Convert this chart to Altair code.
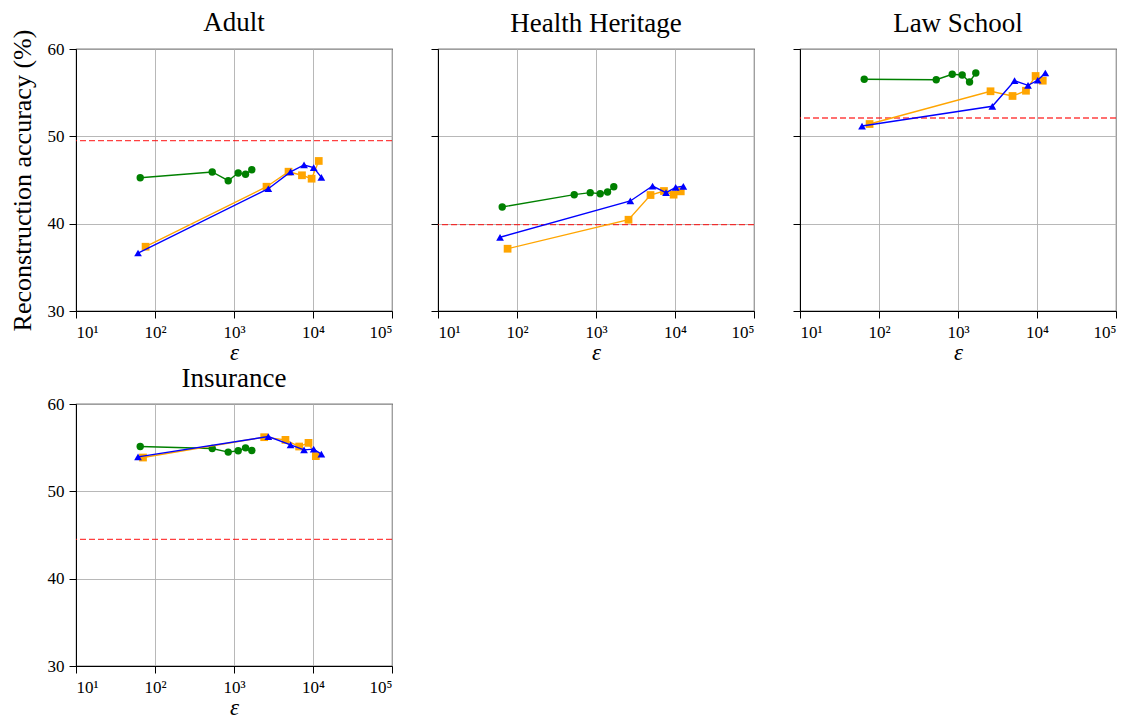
import altair as alt
import pandas as pd

# ---- data ----
DATASETS = ["Adult", "Health Heritage", "Law School", "Insurance"]
EPS_GREEN = [65, 530, 845, 1130, 1400, 1680]
EPS_BLUE = [61, 2720, 5200, 7700, 10200, 12750]
EPS_ORANGE = [76, 2580, 4900, 7250, 9600, 11830]
EPS_ORANGE_INS = [70.5, 2410, 4480, 6680, 8770, 10860]

ADULT_GREEN = [45.26, 45.92, 44.92, 45.80, 45.65, 46.18]
ADULT_BLUE = [36.64, 44.00, 45.92, 46.72, 46.41, 45.30]
ADULT_ORANGE = [37.36, 44.23, 45.95, 45.54, 45.15, 47.18]
ADULT_BASE = 49.5

HH_GREEN = [41.91, 43.32, 43.55, 43.43, 43.63, 44.23]
HH_BLUE = [38.44, 42.60, 44.31, 43.55, 44.16, 44.28]
HH_ORANGE = [37.13, 40.45, 43.28, 43.74, 43.32, 43.70]
HH_BASE = 39.9

LS_GREEN = [56.53, 56.48, 57.10, 57.02, 56.22, 57.25]
LS_BLUE = [51.18, 53.44, 56.37, 55.84, 56.42, 57.25]
LS_ORANGE = [51.41, 55.16, 54.62, 55.22, 56.91, 56.37]
LS_BASE = 52.1

INS_GREEN = [55.13, 54.90, 54.49, 54.64, 54.98, 54.67]
INS_BLUE = [53.95, 56.27, 55.32, 54.75, 54.83, 54.26]
INS_ORANGE = [53.87, 56.20, 55.89, 55.13, 55.55, 54.03]
INS_BASE = 44.5

X_TICKS = [10, 100, 1000, 10000, 100000]
Y_TICKS = [30, 40, 50, 60]

FONT = "Liberation Serif"
W, H = 316, 262


def series_df(eps, acc):
    return pd.DataFrame({"eps": eps, "acc": acc, "idx": list(range(len(eps)))})


def panel(name, green, blue, orange, eps_orange, base, ylabels, ytitle, toff):
    xenc = alt.X(
        "eps:Q",
        scale=alt.Scale(type="log", domain=[10, 100000]),
        axis=alt.Axis(
            values=X_TICKS,
            labelExpr="{'10':'10¹','100':'10²','1000':'10³','10000':'10⁴','100000':'10⁵'}[datum.value+'']",
            title="ε",
            titleFontStyle="italic",
            titleFontSize=23,
        ),
    )
    yaxis = alt.Axis(values=Y_TICKS, labels=ylabels)
    if ytitle:
        yenc = alt.Y("acc:Q", scale=alt.Scale(domain=[30, 60]), axis=yaxis,
                     title="Reconstruction accuracy (%)")
    else:
        yenc = alt.Y("acc:Q", scale=alt.Scale(domain=[30, 60]), axis=yaxis, title=None)

    layers = []
    rule = alt.Chart(pd.DataFrame({"acc": [base]})).mark_rule(
        color="red", strokeDash=[6, 3], strokeWidth=1.3, opacity=0.75
    ).encode(y=yenc)
    layers.append(rule)
    for eps, acc, col, shp, sz in [
        (EPS_GREEN, green, "#008000", "circle", 55),
        (eps_orange, orange, "#ffa500", "square", 60),
        (EPS_BLUE, blue, "#0000ff", "triangle-up", 60),
    ]:
        df = series_df(eps, acc)
        base_ch = alt.Chart(df)
        layers.append(base_ch.mark_line(color=col, strokeWidth=1.4).encode(
            x=xenc, y=yenc, order="idx:Q"))
        layers.append(base_ch.mark_point(color=col, shape=shp, filled=True,
                                         opacity=1, size=sz).encode(x=xenc, y=yenc))
    return alt.layer(*layers).properties(
        width=W, height=H,
        title=alt.TitleParams(name, fontSize=27, font=FONT, fontWeight="normal",
                              color="black", offset=toff, frame="group"),
    )


p1 = panel(DATASETS[0], ADULT_GREEN, ADULT_BLUE, ADULT_ORANGE, EPS_ORANGE, ADULT_BASE, True, True, -8)
p2 = panel(DATASETS[1], HH_GREEN, HH_BLUE, HH_ORANGE, EPS_ORANGE, HH_BASE, False, False, 11)
p3 = panel(DATASETS[2], LS_GREEN, LS_BLUE, LS_ORANGE, EPS_ORANGE, LS_BASE, False, False, 11)
p4 = panel(DATASETS[3], INS_GREEN, INS_BLUE, INS_ORANGE, EPS_ORANGE_INS, INS_BASE, True, False, 2)

chart = alt.concat(
    p1, p2, p3, p4, columns=3, spacing={"row": 93, "column": 46}, bounds="flush"
).properties(
    padding={"left": 0, "top": 0, "right": 5, "bottom": 0}
).configure_view(
    stroke="black", strokeWidth=1.1
).configure_axis(
    grid=True, gridColor="#b0b0b0", gridWidth=0.9,
    domainColor="black", tickColor="black", tickSize=7, tickWidth=1,
    labelFont=FONT, labelFontSize=17, labelColor="black", labelPadding=5,
    titleFont=FONT, titleFontSize=26, titleFontWeight="normal", titleColor="black",
).configure_axisY(titlePadding=12).configure_axisX(titlePadding=1, labelPadding=6)

chart.save("out.html", embed_options={"renderer": "svg", "actions": False})
